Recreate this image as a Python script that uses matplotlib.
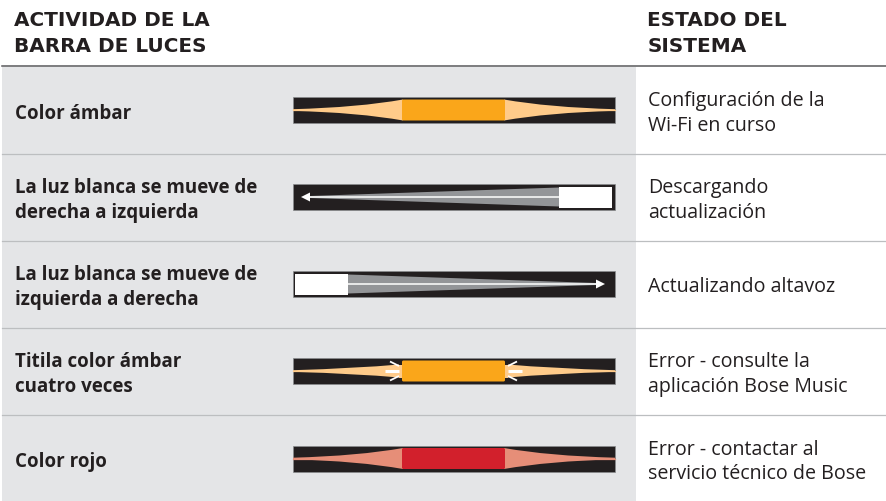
import matplotlib
matplotlib.use('Agg')
import matplotlib.pyplot as plt
from matplotlib.path import Path
from matplotlib.patches import PathPatch, Rectangle, FancyBboxPatch, Polygon

# 표 내용
header_left = ['ACTIVIDAD DE LA', 'BARRA DE LUCES']
header_right = ['ESTADO DEL', 'SISTEMA']
activities = ['Color ámbar',
              'La luz blanca se mueve de\nderecha a izquierda',
              'La luz blanca se mueve de\nizquierda a derecha',
              'Titila color ámbar\ncuatro veces',
              'Color rojo']
states = ['Configuración de la\nWi-Fi en curso',
          'Descargando\nactualización',
          'Actualizando altavoz',
          'Error - consulte la\naplicación Bose Music',
          'Error - contactar al\nservicio técnico de Bose']
bar_kinds = ['center', 'left', 'right', 'blink', 'center']
block_colors = ['#FAA61A', '#FFFFFF', '#FFFFFF', '#FAA61A', '#D2202C']
flare_colors = ['#FFCB8A', '#939598', '#939598', '#FFCB8A', '#E68E78']
row_centers = [110, 197, 284, 371, 458.5]
row_lines = [153.5, 240.5, 327.5, 415]

PANEL = '#E4E5E7'
DARK = '#231F20'
TEXT = '#231F20'
BAR_L, BAR_R = 293, 615
BLOCK_L, BLOCK_R = 402, 505

fig = plt.figure(figsize=(8.87, 5.01), dpi=100)
ax = fig.add_axes([0, 0, 1, 1])
ax.set_xlim(0, 887)
ax.set_ylim(501, 0)
ax.axis('off')


# 가운데 블록에서 양쪽 끝으로 가늘어지는 빛 모양
def flare(x_end, x_block, yc, color, hh):
    mid = x_end + (x_block - x_end) * 0.6
    verts = [(x_end, yc - 0.8), (mid, yc - 2.6), (x_block, yc - hh),
             (x_block, yc + hh), (mid, yc + 2.6), (x_end, yc + 0.8),
             (x_end, yc - 0.8)]
    codes = [Path.MOVETO, Path.CURVE3, Path.CURVE3, Path.LINETO,
             Path.CURVE3, Path.CURVE3, Path.CLOSEPOLY]
    ax.add_patch(PathPatch(Path(verts, codes), fc=color, ec='none', zorder=3))


def draw_center(yc, block, fl, blink=False):
    ax.plot([BAR_L, BAR_R], [yc, yc], color=fl, lw=0.9, zorder=3)
    if blink:
        flare(BAR_L, BLOCK_L - 3, yc, fl, 6.5)
        flare(BAR_R, BLOCK_R + 3, yc, fl, 6.5)
        ax.add_patch(Rectangle((BLOCK_L - 3, yc - 6.5), BLOCK_R - BLOCK_L + 6, 13, fc=fl, ec='none', zorder=3))
    else:
        flare(BAR_L, BLOCK_L + 1, yc, fl, 10.5)
        flare(BAR_R, BLOCK_R - 1, yc, fl, 10.5)
    ax.add_patch(FancyBboxPatch((BLOCK_L, yc - 10.5), BLOCK_R - BLOCK_L, 21,
                                boxstyle='round,pad=0,rounding_size=1.5',
                                fc=block, ec='none', zorder=4))
    if blink:
        # 깜빡임 표시
        for sx, x0 in ((-1, BLOCK_L - 3), (1, BLOCK_R + 3)):
            ax.plot([x0, x0 + sx * 14], [yc, yc], color='white', lw=2.2, zorder=5, solid_capstyle='butt')
            ax.plot([x0, x0 + sx * 9], [yc - 5, yc - 9.5], color='white', lw=1.3, zorder=5, solid_capstyle='butt')
            ax.plot([x0, x0 + sx * 9], [yc + 5, yc + 9.5], color='white', lw=1.3, zorder=5, solid_capstyle='butt')


def draw_arrow(yc, fl, to_left):
    if to_left:
        x0, tip, sx = 559, 301, -1
        bx = 559
    else:
        x0, tip, sx = 348, 605, 1
        bx = 295
    head = tip - sx * 9
    ax.add_patch(Polygon([(x0, yc - 9.5), (head, yc - 1), (head, yc + 1), (x0, yc + 9.5)],
                         fc=fl, ec='none', zorder=3))
    ax.add_patch(Rectangle((bx, yc - 10.5), 53, 21, fc='white', ec='none', zorder=4))
    ax.plot([x0, head], [yc, yc], color='white', lw=1.1, zorder=5)
    ax.add_patch(Polygon([(tip, yc), (head, yc - 4.5), (head, yc + 4.5)],
                         fc='white', ec='none', zorder=5))


# 배경과 선
ax.add_patch(Rectangle((2, 67), 634, 434, fc=PANEL, ec='none', zorder=0))
ax.plot([2, 887], [66, 66], color='#58595B', lw=1.1, zorder=1)
for y in row_lines:
    ax.plot([2, 887], [y, y], color='#BCBEC0', lw=0.9, zorder=1)

# 헤더
for i, t in enumerate(header_left):
    ax.text(14.5, 20.5 + i * 25.5, t, fontsize=14.4, fontweight='bold', family='DejaVu Sans',
            color=TEXT, va='center', ha='left')
for i, t in enumerate(header_right):
    ax.text(647.5, 20.5 + i * 25.5, t, fontsize=14.4, fontweight='bold', family='DejaVu Sans',
            color=TEXT, va='center', ha='left')

# 각 행
for i in range(len(activities)):
    yc = row_centers[i]
    ax.text(15, yc + 3.5, activities[i], fontsize=13.5, fontweight='bold', family='Open Sans',
            color=TEXT, va='center', ha='left', linespacing=1.3)
    ax.text(648.5, yc + 3.5, states[i], fontsize=14.1, family='Open Sans',
            color=TEXT, va='center', ha='left', linespacing=1.32)
    ax.add_patch(Rectangle((BAR_L, yc - 13), BAR_R - BAR_L, 26, fc=DARK, ec='#8A8C8E', lw=0.5, zorder=2))
    kind = bar_kinds[i]
    if kind == 'center':
        draw_center(yc, block_colors[i], flare_colors[i])
    elif kind == 'blink':
        draw_center(yc, block_colors[i], flare_colors[i], blink=True)
    else:
        draw_arrow(yc, flare_colors[i], kind == 'left')

fig.savefig('out.png', dpi=100)
